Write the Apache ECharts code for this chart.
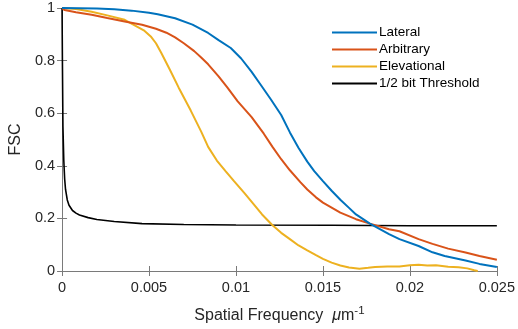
<!DOCTYPE html>
<html><head><meta charset="utf-8">
<script src="https://cdn.jsdelivr.net/npm/echarts@6/dist/echarts.min.js"></script>
<style>html,body{margin:0;padding:0;background:#fff}#c{width:518px;height:329px}</style>
</head><body><div id="c"></div>
<script>
var seriesNames = ['Lateral', 'Arbitrary', 'Elevational', '1/2 bit Threshold'];
var xTicks = [0, 0.005, 0.01, 0.015, 0.02, 0.025];
var yTicks = [0, 0.2, 0.4, 0.6, 0.8, 1];

var lateralX = [0, 0.001, 0.002, 0.003, 0.004, 0.005, 0.0055, 0.0065, 0.0075, 0.0084, 0.009, 0.0097, 0.0103, 0.0109, 0.0114, 0.012, 0.0126, 0.0131, 0.0136, 0.0141, 0.0145, 0.015, 0.0155, 0.016, 0.0165, 0.0169, 0.0177, 0.0188, 0.0194, 0.0205, 0.0213, 0.022, 0.0232, 0.024, 0.025];
var lateralY = [1, 0.999, 0.998, 0.995, 0.99, 0.982, 0.976, 0.961, 0.937, 0.905, 0.878, 0.848, 0.808, 0.757, 0.71, 0.653, 0.593, 0.527, 0.468, 0.416, 0.38, 0.342, 0.305, 0.271, 0.24, 0.215, 0.18, 0.14, 0.121, 0.095, 0.071, 0.057, 0.04, 0.027, 0.015];

var arbitraryX = [0, 0.00015, 0.0008, 0.0017, 0.0026, 0.0036, 0.0046, 0.0054, 0.006, 0.0065, 0.007, 0.0076, 0.008, 0.0084, 0.009, 0.0095, 0.0101, 0.0109, 0.0116, 0.0121, 0.0126, 0.0131, 0.0137, 0.0141, 0.0146, 0.015, 0.0154, 0.016, 0.0169, 0.0177, 0.0188, 0.0194, 0.0205, 0.0213, 0.0222, 0.0232, 0.024, 0.025];
var arbitraryY = [1, 0.992, 0.984, 0.974, 0.962, 0.949, 0.936, 0.921, 0.906, 0.888, 0.866, 0.836, 0.812, 0.786, 0.74, 0.698, 0.645, 0.585, 0.522, 0.472, 0.425, 0.383, 0.338, 0.31, 0.28, 0.26, 0.245, 0.222, 0.197, 0.18, 0.159, 0.151, 0.121, 0.103, 0.085, 0.07, 0.057, 0.043];

var elevationalX = [0, 0.0008, 0.0017, 0.0026, 0.0036, 0.0047, 0.0051, 0.0054, 0.0057, 0.0062, 0.0067, 0.0074, 0.008, 0.0084, 0.0089, 0.0094, 0.0099, 0.0105, 0.011, 0.0115, 0.0121, 0.0126, 0.0131, 0.0136, 0.0141, 0.0146, 0.015, 0.0155, 0.016, 0.0165, 0.0171, 0.0176, 0.018, 0.0187, 0.0194, 0.02, 0.0205, 0.021, 0.0215, 0.0222, 0.0228, 0.0233, 0.0237, 0.0239];
var elevationalY = [1, 0.996, 0.986, 0.972, 0.955, 0.915, 0.892, 0.866, 0.83, 0.765, 0.698, 0.61, 0.53, 0.472, 0.42, 0.38, 0.341, 0.295, 0.255, 0.215, 0.174, 0.145, 0.121, 0.097, 0.078, 0.06, 0.046, 0.032, 0.021, 0.013, 0.009, 0.012, 0.015, 0.017, 0.017, 0.022, 0.024, 0.021, 0.022, 0.016, 0.014, 0.01, 0.003, 0];

var thresholdX = [0, 0.00002, 0.00005, 0.0001, 0.00015, 0.0002, 0.0003, 0.0004, 0.0006, 0.0008, 0.001, 0.0015, 0.002, 0.003, 0.0046, 0.007, 0.01, 0.0155, 0.02, 0.025];
var thresholdY = [1, 0.8, 0.55, 0.42, 0.35, 0.31, 0.27, 0.25, 0.23, 0.22, 0.213, 0.203, 0.196, 0.188, 0.18, 0.177, 0.175, 0.174, 0.172, 0.172];

var colors = ['#0072BD', '#D95319', '#EDB120', '#000000'];
var widths = [2, 2, 2, 1.6];

function zip(xs, ys) { return xs.map(function (x, i) { return [x, ys[i]]; }); }
var allX = [lateralX, arbitraryX, elevationalX, thresholdX];
var allY = [lateralY, arbitraryY, elevationalY, thresholdY];

var FONT = 'Liberation Sans, Arial, sans-serif';
var axisColor = '#7a7a7a';
function fmt(v) { return String(parseFloat(v.toFixed(4))); }

var chart = echarts.init(document.getElementById('c'), null, { renderer: 'canvas' });
chart.setOption({
  animation: false,
  backgroundColor: '#fff',
  grid: { left: 59, right: 19, top: 8, bottom: 55 },
  legend: {
    data: seriesNames,
    orient: 'vertical',
    left: 327, top: 20,
    icon: 'rect', itemWidth: 45, itemHeight: 2, itemGap: 2,
    textStyle: { fontFamily: FONT, fontSize: 13.5, color: '#000', lineHeight: 15, padding: [0, 0, 0, -3] }
  },
  xAxis: [{
    type: 'value', min: xTicks[0], max: xTicks[xTicks.length - 1], interval: 0.005,
    position: 'bottom',
    name: 'Spatial Frequency  {mu|μ}m{sup|-1}',
    nameLocation: 'middle', nameGap: 34,
    nameTextStyle: {
      fontFamily: FONT, fontSize: 16, color: '#262626',
      rich: {
        mu: { fontFamily: FONT, fontSize: 16, fontStyle: 'italic', color: '#262626' },
        sup: { fontFamily: FONT, fontSize: 11.5, color: '#262626', padding: [0, 0, 10, 0] }
      }
    },
    axisLine: { show: true, lineStyle: { color: axisColor, width: 1 } },
    axisTick: { show: true, inside: true, length: 5, lineStyle: { color: axisColor } },
    axisLabel: { fontFamily: FONT, fontSize: 14.5, color: '#262626', margin: 9, formatter: fmt },
    splitLine: { show: false }
  }, {
    type: 'value', min: xTicks[0], max: xTicks[xTicks.length - 1], interval: 0.005,
    position: 'top',
    axisLine: { show: true, lineStyle: { color: axisColor, width: 1 } },
    axisTick: { show: true, inside: true, length: 5, lineStyle: { color: axisColor } },
    axisLabel: { show: false },
    splitLine: { show: false }
  }],
  yAxis: [{
    type: 'value', min: yTicks[0], max: yTicks[yTicks.length - 1], interval: 0.2,
    position: 'left',
    name: 'FSC', nameLocation: 'middle', nameGap: 35,
    nameTextStyle: { fontFamily: FONT, fontSize: 16, color: '#262626' },
    axisLine: { show: true, lineStyle: { color: axisColor, width: 1 } },
    axisTick: { show: true, inside: true, length: 5, lineStyle: { color: axisColor } },
    axisLabel: { fontFamily: FONT, fontSize: 14.5, color: '#262626', margin: 7, formatter: fmt },
    splitLine: { show: false }
  }, {
    type: 'value', min: yTicks[0], max: yTicks[yTicks.length - 1], interval: 0.2,
    position: 'right',
    axisLine: { show: true, lineStyle: { color: axisColor, width: 1 } },
    axisTick: { show: true, inside: true, length: 5, lineStyle: { color: axisColor } },
    axisLabel: { show: false },
    splitLine: { show: false }
  }],
  series: seriesNames.map(function (n, i) {
    return {
      name: n, type: 'line', xAxisIndex: 0, yAxisIndex: 0,
      data: zip(allX[i], allY[i]),
      showSymbol: false, symbol: 'none',
      itemStyle: { color: colors[i] },
      lineStyle: { color: colors[i], width: widths[i] },
      z: 10 - i
    };
  })
});
</script></body></html>
